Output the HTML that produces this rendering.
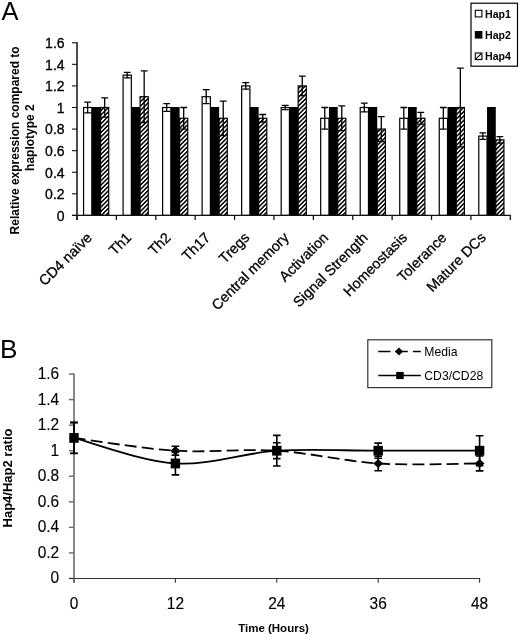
<!DOCTYPE html>
<html><head><meta charset="utf-8"><style>
html,body{margin:0;padding:0;background:#fff;}
body{width:520px;height:636px;overflow:hidden;font-family:"Liberation Sans", sans-serif;}
svg{display:block;filter:grayscale(100%);}
</style></head><body>
<svg width="520" height="636" viewBox="0 0 520 636">
<defs>
<pattern id="hatch" patternUnits="userSpaceOnUse" width="3.1" height="3.1" patternTransform="rotate(45)">
<rect x="0" y="0" width="3.1" height="3.1" fill="#fff"/>
<rect x="0" y="0" width="1.5" height="3.1" fill="#000"/>
</pattern>
</defs>
<rect width="520" height="636" fill="#fff"/>
<text x="1.5" y="19.6" font-size="25.5" font-family='"Liberation Sans", sans-serif' fill="#000">A</text><line x1="72" y1="215.40" x2="77.0" y2="215.40" stroke="#111" stroke-width="1.1"/><text transform="translate(64.6 220.80) scale(1.04 1.12)" font-size="13.5" text-anchor="end" font-family='"Liberation Sans", sans-serif' fill="#000" stroke="#000" stroke-width="0.3">0</text><line x1="72" y1="193.82" x2="77.0" y2="193.82" stroke="#111" stroke-width="1.1"/><text transform="translate(64.6 199.22) scale(1.04 1.12)" font-size="13.5" text-anchor="end" font-family='"Liberation Sans", sans-serif' fill="#000" stroke="#000" stroke-width="0.3">0.2</text><line x1="72" y1="172.24" x2="77.0" y2="172.24" stroke="#111" stroke-width="1.1"/><text transform="translate(64.6 177.64) scale(1.04 1.12)" font-size="13.5" text-anchor="end" font-family='"Liberation Sans", sans-serif' fill="#000" stroke="#000" stroke-width="0.3">0.4</text><line x1="72" y1="150.66" x2="77.0" y2="150.66" stroke="#111" stroke-width="1.1"/><text transform="translate(64.6 156.06) scale(1.04 1.12)" font-size="13.5" text-anchor="end" font-family='"Liberation Sans", sans-serif' fill="#000" stroke="#000" stroke-width="0.3">0.6</text><line x1="72" y1="129.08" x2="77.0" y2="129.08" stroke="#111" stroke-width="1.1"/><text transform="translate(64.6 134.48) scale(1.04 1.12)" font-size="13.5" text-anchor="end" font-family='"Liberation Sans", sans-serif' fill="#000" stroke="#000" stroke-width="0.3">0.8</text><line x1="72" y1="107.50" x2="77.0" y2="107.50" stroke="#111" stroke-width="1.1"/><text transform="translate(64.6 112.90) scale(1.04 1.12)" font-size="13.5" text-anchor="end" font-family='"Liberation Sans", sans-serif' fill="#000" stroke="#000" stroke-width="0.3">1</text><line x1="72" y1="85.92" x2="77.0" y2="85.92" stroke="#111" stroke-width="1.1"/><text transform="translate(64.6 91.32) scale(1.04 1.12)" font-size="13.5" text-anchor="end" font-family='"Liberation Sans", sans-serif' fill="#000" stroke="#000" stroke-width="0.3">1.2</text><line x1="72" y1="64.34" x2="77.0" y2="64.34" stroke="#111" stroke-width="1.1"/><text transform="translate(64.6 69.74) scale(1.04 1.12)" font-size="13.5" text-anchor="end" font-family='"Liberation Sans", sans-serif' fill="#000" stroke="#000" stroke-width="0.3">1.4</text><line x1="72" y1="42.76" x2="77.0" y2="42.76" stroke="#111" stroke-width="1.1"/><text transform="translate(64.6 48.16) scale(1.04 1.12)" font-size="13.5" text-anchor="end" font-family='"Liberation Sans", sans-serif' fill="#000" stroke="#000" stroke-width="0.3">1.6</text><line x1="77.0" y1="42.16" x2="77.0" y2="219.90" stroke="#111" stroke-width="1.5"/><rect x="83.57" y="107.50" width="8.25" height="107.90" fill="#fff" stroke="#000" stroke-width="1.2"/><rect x="91.82" y="107.00" width="8.75" height="108.40" fill="#000"/><rect x="100.57" y="107.50" width="8.15" height="107.90" fill="url(#hatch)" stroke="#000" stroke-width="1.2"/><rect x="123.09" y="75.13" width="8.25" height="140.27" fill="#fff" stroke="#000" stroke-width="1.2"/><rect x="131.34" y="107.00" width="8.75" height="108.40" fill="#000"/><rect x="140.09" y="96.71" width="8.15" height="118.69" fill="url(#hatch)" stroke="#000" stroke-width="1.2"/><rect x="162.61" y="107.50" width="8.25" height="107.90" fill="#fff" stroke="#000" stroke-width="1.2"/><rect x="170.86" y="107.00" width="8.75" height="108.40" fill="#000"/><rect x="179.61" y="118.29" width="8.15" height="97.11" fill="url(#hatch)" stroke="#000" stroke-width="1.2"/><rect x="202.13" y="96.71" width="8.25" height="118.69" fill="#fff" stroke="#000" stroke-width="1.2"/><rect x="210.38" y="107.00" width="8.75" height="108.40" fill="#000"/><rect x="219.13" y="118.29" width="8.15" height="97.11" fill="url(#hatch)" stroke="#000" stroke-width="1.2"/><rect x="241.65" y="85.92" width="8.25" height="129.48" fill="#fff" stroke="#000" stroke-width="1.2"/><rect x="249.90" y="107.00" width="8.75" height="108.40" fill="#000"/><rect x="258.65" y="118.29" width="8.15" height="97.11" fill="url(#hatch)" stroke="#000" stroke-width="1.2"/><rect x="281.18" y="107.50" width="8.25" height="107.90" fill="#fff" stroke="#000" stroke-width="1.2"/><rect x="289.43" y="107.00" width="8.75" height="108.40" fill="#000"/><rect x="298.18" y="85.92" width="8.15" height="129.48" fill="url(#hatch)" stroke="#000" stroke-width="1.2"/><rect x="320.70" y="118.29" width="8.25" height="97.11" fill="#fff" stroke="#000" stroke-width="1.2"/><rect x="328.95" y="107.00" width="8.75" height="108.40" fill="#000"/><rect x="337.70" y="118.29" width="8.15" height="97.11" fill="url(#hatch)" stroke="#000" stroke-width="1.2"/><rect x="360.22" y="107.50" width="8.25" height="107.90" fill="#fff" stroke="#000" stroke-width="1.2"/><rect x="368.47" y="107.00" width="8.75" height="108.40" fill="#000"/><rect x="377.22" y="129.08" width="8.15" height="86.32" fill="url(#hatch)" stroke="#000" stroke-width="1.2"/><rect x="399.74" y="118.29" width="8.25" height="97.11" fill="#fff" stroke="#000" stroke-width="1.2"/><rect x="407.99" y="107.00" width="8.75" height="108.40" fill="#000"/><rect x="416.74" y="118.29" width="8.15" height="97.11" fill="url(#hatch)" stroke="#000" stroke-width="1.2"/><rect x="439.26" y="118.29" width="8.25" height="97.11" fill="#fff" stroke="#000" stroke-width="1.2"/><rect x="447.51" y="107.00" width="8.75" height="108.40" fill="#000"/><rect x="456.26" y="107.50" width="8.15" height="107.90" fill="url(#hatch)" stroke="#000" stroke-width="1.2"/><rect x="478.78" y="136.09" width="8.25" height="79.31" fill="#fff" stroke="#000" stroke-width="1.2"/><rect x="487.03" y="107.00" width="8.75" height="108.40" fill="#000"/><rect x="495.78" y="139.87" width="8.15" height="75.53" fill="url(#hatch)" stroke="#000" stroke-width="1.2"/><path d="M87.65 102.10V112.90M84.25 102.10H91.05M84.25 112.90H91.05" stroke="#000" stroke-width="1.3" fill="none"/><path d="M104.65 97.79V117.21M101.25 97.79H108.05M101.25 117.21H108.05" stroke="#000" stroke-width="1.3" fill="none"/><path d="M127.17 72.43V77.83M123.77 72.43H130.57M123.77 77.83H130.57" stroke="#000" stroke-width="1.3" fill="none"/><path d="M144.17 70.81V122.61M140.77 70.81H147.57M140.77 122.61H147.57" stroke="#000" stroke-width="1.3" fill="none"/><path d="M166.69 103.72V111.28M163.29 103.72H170.09M163.29 111.28H170.09" stroke="#000" stroke-width="1.3" fill="none"/><path d="M183.69 107.50V129.08M180.29 107.50H187.09M180.29 129.08H187.09" stroke="#000" stroke-width="1.3" fill="none"/><path d="M206.21 89.70V103.72M202.81 89.70H209.61M202.81 103.72H209.61" stroke="#000" stroke-width="1.3" fill="none"/><path d="M223.21 101.03V135.55M219.81 101.03H226.61M219.81 135.55H226.61" stroke="#000" stroke-width="1.3" fill="none"/><path d="M245.73 82.68V89.16M242.33 82.68H249.13M242.33 89.16H249.13" stroke="#000" stroke-width="1.3" fill="none"/><path d="M262.73 114.51V122.07M259.33 114.51H266.13M259.33 122.07H266.13" stroke="#000" stroke-width="1.3" fill="none"/><path d="M285.25 105.34V109.66M281.85 105.34H288.65M281.85 109.66H288.65" stroke="#000" stroke-width="1.3" fill="none"/><path d="M302.25 76.21V95.63M298.85 76.21H305.65M298.85 95.63H305.65" stroke="#000" stroke-width="1.3" fill="none"/><path d="M324.77 107.50V129.08M321.37 107.50H328.17M321.37 129.08H328.17" stroke="#000" stroke-width="1.3" fill="none"/><path d="M341.77 105.88V130.70M338.37 105.88H345.17M338.37 130.70H345.17" stroke="#000" stroke-width="1.3" fill="none"/><path d="M364.29 103.18V111.82M360.89 103.18H367.69M360.89 111.82H367.69" stroke="#000" stroke-width="1.3" fill="none"/><path d="M381.29 116.67V141.49M377.89 116.67H384.69M377.89 141.49H384.69" stroke="#000" stroke-width="1.3" fill="none"/><path d="M403.81 107.50V129.08M400.41 107.50H407.21M400.41 129.08H407.21" stroke="#000" stroke-width="1.3" fill="none"/><path d="M420.81 112.36V124.22M417.41 112.36H424.21M417.41 124.22H424.21" stroke="#000" stroke-width="1.3" fill="none"/><path d="M443.33 107.50V129.08M439.93 107.50H446.73M439.93 129.08H446.73" stroke="#000" stroke-width="1.3" fill="none"/><path d="M460.33 68.12V146.88M456.93 68.12H463.73M456.93 146.88H463.73" stroke="#000" stroke-width="1.3" fill="none"/><path d="M482.85 132.86V139.33M479.45 132.86H486.25M479.45 139.33H486.25" stroke="#000" stroke-width="1.3" fill="none"/><path d="M499.85 136.63V143.11M496.45 136.63H503.25M496.45 143.11H503.25" stroke="#000" stroke-width="1.3" fill="none"/><line x1="72.0" y1="215.40" x2="510.80" y2="215.40" stroke="#111" stroke-width="1.3"/><line x1="77.00" y1="215.40" x2="77.00" y2="219.90" stroke="#111" stroke-width="1.3"/><line x1="116.39" y1="215.40" x2="116.39" y2="219.90" stroke="#111" stroke-width="1.3"/><line x1="155.78" y1="215.40" x2="155.78" y2="219.90" stroke="#111" stroke-width="1.3"/><line x1="195.17" y1="215.40" x2="195.17" y2="219.90" stroke="#111" stroke-width="1.3"/><line x1="234.56" y1="215.40" x2="234.56" y2="219.90" stroke="#111" stroke-width="1.3"/><line x1="273.95" y1="215.40" x2="273.95" y2="219.90" stroke="#111" stroke-width="1.3"/><line x1="313.35" y1="215.40" x2="313.35" y2="219.90" stroke="#111" stroke-width="1.3"/><line x1="352.74" y1="215.40" x2="352.74" y2="219.90" stroke="#111" stroke-width="1.3"/><line x1="392.13" y1="215.40" x2="392.13" y2="219.90" stroke="#111" stroke-width="1.3"/><line x1="431.52" y1="215.40" x2="431.52" y2="219.90" stroke="#111" stroke-width="1.3"/><line x1="470.91" y1="215.40" x2="470.91" y2="219.90" stroke="#111" stroke-width="1.3"/><line x1="510.30" y1="215.40" x2="510.30" y2="219.90" stroke="#111" stroke-width="1.3"/><text transform="translate(92.90 238.5) rotate(-45)" font-size="14.4" text-anchor="end" font-family='"Liberation Sans", sans-serif' fill="#000" stroke="#000" stroke-width="0.3">CD4 naïve</text><text transform="translate(132.29 238.5) rotate(-45)" font-size="14.4" text-anchor="end" font-family='"Liberation Sans", sans-serif' fill="#000" stroke="#000" stroke-width="0.3">Th1</text><text transform="translate(171.68 238.5) rotate(-45)" font-size="14.4" text-anchor="end" font-family='"Liberation Sans", sans-serif' fill="#000" stroke="#000" stroke-width="0.3">Th2</text><text transform="translate(211.07 238.5) rotate(-45)" font-size="14.4" text-anchor="end" font-family='"Liberation Sans", sans-serif' fill="#000" stroke="#000" stroke-width="0.3">Th17</text><text transform="translate(250.46 238.5) rotate(-45)" font-size="14.4" text-anchor="end" font-family='"Liberation Sans", sans-serif' fill="#000" stroke="#000" stroke-width="0.3">Tregs</text><text transform="translate(289.85 238.5) rotate(-45)" font-size="14.4" text-anchor="end" font-family='"Liberation Sans", sans-serif' fill="#000" stroke="#000" stroke-width="0.3">Central memory</text><text transform="translate(329.24 238.5) rotate(-45)" font-size="14.4" text-anchor="end" font-family='"Liberation Sans", sans-serif' fill="#000" stroke="#000" stroke-width="0.3">Activation</text><text transform="translate(368.63 238.5) rotate(-45)" font-size="14.4" text-anchor="end" font-family='"Liberation Sans", sans-serif' fill="#000" stroke="#000" stroke-width="0.3">Signal Strength</text><text transform="translate(408.02 238.5) rotate(-45)" font-size="14.4" text-anchor="end" font-family='"Liberation Sans", sans-serif' fill="#000" stroke="#000" stroke-width="0.3">Homeostasis</text><text transform="translate(447.41 238.5) rotate(-45)" font-size="14.4" text-anchor="end" font-family='"Liberation Sans", sans-serif' fill="#000" stroke="#000" stroke-width="0.3">Tolerance</text><text transform="translate(486.80 238.5) rotate(-45)" font-size="14.4" text-anchor="end" font-family='"Liberation Sans", sans-serif' fill="#000" stroke="#000" stroke-width="0.3">Mature DCs</text><text transform="translate(18.8 140.4) rotate(-90)" font-size="12" font-weight="bold" text-anchor="middle" font-family='"Liberation Sans", sans-serif' fill="#000">Relative expression compared to</text><text transform="translate(34.4 137.6) rotate(-90)" font-size="12" font-weight="bold" text-anchor="middle" font-family='"Liberation Sans", sans-serif' fill="#000">haplotype 2</text><rect x="471" y="3.2" width="46.5" height="63" fill="#fff" stroke="#000" stroke-width="1.2"/><rect x="475.3" y="10.30" width="6.6" height="6.6" fill="#fff" stroke="#000" stroke-width="1.1"/><rect x="474.8" y="31.00" width="7.6" height="7.6" fill="#000"/><rect x="475.3" y="53.00" width="6.6" height="6.6" fill="#fff" stroke="#000" stroke-width="1.1"/><path d="M476 58.90L481.2 53.70" stroke="#000" stroke-width="1.1"/><text transform="translate(485 17.70) scale(1 1.08)" font-size="10.6" font-weight="bold" font-family='"Liberation Sans", sans-serif' fill="#000">Hap1</text><text transform="translate(485 38.90) scale(1 1.08)" font-size="10.6" font-weight="bold" font-family='"Liberation Sans", sans-serif' fill="#000">Hap2</text><text transform="translate(485 60.40) scale(1 1.08)" font-size="10.6" font-weight="bold" font-family='"Liberation Sans", sans-serif' fill="#000">Hap4</text><text x="0" y="357.8" font-size="26.2" font-family='"Liberation Sans", sans-serif' fill="#000">B</text><line x1="68.9" y1="578.45" x2="74.0" y2="578.45" stroke="#6a6a6a" stroke-width="1.4"/><text transform="translate(59.2 583.45) scale(1 1.12)" font-size="15.5" text-anchor="end" font-family='"Liberation Sans", sans-serif' fill="#000" stroke="#000" stroke-width="0.12">0</text><line x1="68.9" y1="552.90" x2="74.0" y2="552.90" stroke="#6a6a6a" stroke-width="1.4"/><text transform="translate(59.2 557.90) scale(1 1.12)" font-size="15.5" text-anchor="end" font-family='"Liberation Sans", sans-serif' fill="#000" stroke="#000" stroke-width="0.12">0.2</text><line x1="68.9" y1="527.35" x2="74.0" y2="527.35" stroke="#6a6a6a" stroke-width="1.4"/><text transform="translate(59.2 532.35) scale(1 1.12)" font-size="15.5" text-anchor="end" font-family='"Liberation Sans", sans-serif' fill="#000" stroke="#000" stroke-width="0.12">0.4</text><line x1="68.9" y1="501.80" x2="74.0" y2="501.80" stroke="#6a6a6a" stroke-width="1.4"/><text transform="translate(59.2 506.80) scale(1 1.12)" font-size="15.5" text-anchor="end" font-family='"Liberation Sans", sans-serif' fill="#000" stroke="#000" stroke-width="0.12">0.6</text><line x1="68.9" y1="476.25" x2="74.0" y2="476.25" stroke="#6a6a6a" stroke-width="1.4"/><text transform="translate(59.2 481.25) scale(1 1.12)" font-size="15.5" text-anchor="end" font-family='"Liberation Sans", sans-serif' fill="#000" stroke="#000" stroke-width="0.12">0.8</text><line x1="68.9" y1="450.70" x2="74.0" y2="450.70" stroke="#6a6a6a" stroke-width="1.4"/><text transform="translate(59.2 455.70) scale(1 1.12)" font-size="15.5" text-anchor="end" font-family='"Liberation Sans", sans-serif' fill="#000" stroke="#000" stroke-width="0.12">1</text><line x1="68.9" y1="425.15" x2="74.0" y2="425.15" stroke="#6a6a6a" stroke-width="1.4"/><text transform="translate(59.2 430.15) scale(1 1.12)" font-size="15.5" text-anchor="end" font-family='"Liberation Sans", sans-serif' fill="#000" stroke="#000" stroke-width="0.12">1.2</text><line x1="68.9" y1="399.60" x2="74.0" y2="399.60" stroke="#6a6a6a" stroke-width="1.4"/><text transform="translate(59.2 404.60) scale(1 1.12)" font-size="15.5" text-anchor="end" font-family='"Liberation Sans", sans-serif' fill="#000" stroke="#000" stroke-width="0.12">1.4</text><line x1="68.9" y1="374.05" x2="74.0" y2="374.05" stroke="#6a6a6a" stroke-width="1.4"/><text transform="translate(59.2 379.05) scale(1 1.12)" font-size="15.5" text-anchor="end" font-family='"Liberation Sans", sans-serif' fill="#000" stroke="#000" stroke-width="0.12">1.6</text><line x1="74.0" y1="373.45" x2="74.0" y2="582.65" stroke="#6a6a6a" stroke-width="1.6"/><line x1="69.0" y1="578.45" x2="480.10" y2="578.45" stroke="#333" stroke-width="1.1"/><line x1="74.00" y1="578.45" x2="74.00" y2="582.65" stroke="#6a6a6a" stroke-width="1.6"/><text transform="translate(74.00 608.6) scale(1 1.12)" font-size="15.5" text-anchor="middle" font-family='"Liberation Sans", sans-serif' fill="#000" stroke="#000" stroke-width="0.12">0</text><line x1="175.40" y1="578.45" x2="175.40" y2="582.65" stroke="#333" stroke-width="1.1"/><text transform="translate(175.40 608.6) scale(1 1.12)" font-size="15.5" text-anchor="middle" font-family='"Liberation Sans", sans-serif' fill="#000" stroke="#000" stroke-width="0.12">12</text><line x1="276.80" y1="578.45" x2="276.80" y2="582.65" stroke="#333" stroke-width="1.1"/><text transform="translate(276.80 608.6) scale(1 1.12)" font-size="15.5" text-anchor="middle" font-family='"Liberation Sans", sans-serif' fill="#000" stroke="#000" stroke-width="0.12">24</text><line x1="378.20" y1="578.45" x2="378.20" y2="582.65" stroke="#333" stroke-width="1.1"/><text transform="translate(378.20 608.6) scale(1 1.12)" font-size="15.5" text-anchor="middle" font-family='"Liberation Sans", sans-serif' fill="#000" stroke="#000" stroke-width="0.12">36</text><line x1="479.60" y1="578.45" x2="479.60" y2="582.65" stroke="#333" stroke-width="1.1"/><text transform="translate(479.60 608.6) scale(1 1.12)" font-size="15.5" text-anchor="middle" font-family='"Liberation Sans", sans-serif' fill="#000" stroke="#000" stroke-width="0.12">48</text><text x="273.5" y="631.5" font-size="11.5" font-weight="bold" text-anchor="middle" font-family='"Liberation Sans", sans-serif' fill="#000">Time (Hours)</text><text transform="translate(11.8 478) rotate(-90)" font-size="13" font-weight="bold" text-anchor="middle" font-family='"Liberation Sans", sans-serif' fill="#000">Hap4/Hap2 ratio</text><path d="M74.00 437.93C90.90 442.18 141.60 461.35 175.40 463.48C209.20 465.60 243.00 452.83 276.80 450.70C310.60 448.57 344.40 450.70 378.20 450.70C412.00 450.70 462.70 450.70 479.60 450.70" fill="none" stroke="#000" stroke-width="1.8"/><path d="M74.00 437.93C90.90 440.05 141.60 448.57 175.40 450.70" fill="none" stroke="#000" stroke-width="1.8" stroke-dasharray="11.9 5.2"/><path d="M175.40 450.70C209.20 452.83 243.00 448.57 276.80 450.70" fill="none" stroke="#000" stroke-width="1.8" stroke-dasharray="11.9 5.2"/><path d="M276.80 450.70C310.60 452.83 344.40 461.35 378.20 463.48" fill="none" stroke="#000" stroke-width="1.8" stroke-dasharray="11.9 5.2"/><path d="M378.20 463.48C412.00 465.60 462.70 463.48 479.60 463.48" fill="none" stroke="#000" stroke-width="1.8" stroke-dasharray="11.9 5.2"/><path d="M74.00 422.60V453.26M70.20 422.60H77.80M70.20 453.26H77.80" stroke="#000" stroke-width="1.6" fill="none"/><path d="M175.40 446.23V455.17M171.60 446.23H179.20M171.60 455.17H179.20" stroke="#000" stroke-width="1.6" fill="none"/><path d="M276.80 442.78V458.62M273.00 442.78H280.60M273.00 458.62H280.60" stroke="#000" stroke-width="1.6" fill="none"/><path d="M378.20 456.19V470.76M374.40 456.19H382.00M374.40 470.76H382.00" stroke="#000" stroke-width="1.6" fill="none"/><path d="M479.60 456.07V470.88M475.80 456.07H483.40M475.80 470.88H483.40" stroke="#000" stroke-width="1.6" fill="none"/><path d="M74.00 422.34V453.51M70.20 422.34H77.80M70.20 453.51H77.80" stroke="#000" stroke-width="1.6" fill="none"/><path d="M175.40 452.11V474.84M171.60 452.11H179.20M171.60 474.84H179.20" stroke="#000" stroke-width="1.6" fill="none"/><path d="M276.80 435.37V466.03M273.00 435.37H280.60M273.00 466.03H280.60" stroke="#000" stroke-width="1.6" fill="none"/><path d="M378.20 443.16V458.24M374.40 443.16H382.00M374.40 458.24H382.00" stroke="#000" stroke-width="1.6" fill="none"/><path d="M479.60 435.75V465.65M475.80 435.75H483.40M475.80 465.65H483.40" stroke="#000" stroke-width="1.6" fill="none"/><path d="M69.10 437.93L74.00 433.33L78.90 437.93L74.00 442.53Z" fill="#000"/><path d="M170.50 450.70L175.40 446.10L180.30 450.70L175.40 455.30Z" fill="#000"/><path d="M271.90 450.70L276.80 446.10L281.70 450.70L276.80 455.30Z" fill="#000"/><path d="M373.30 463.48L378.20 458.88L383.10 463.48L378.20 468.08Z" fill="#000"/><path d="M474.70 463.48L479.60 458.88L484.50 463.48L479.60 468.08Z" fill="#000"/><rect x="69.30" y="433.03" width="9.4" height="9.8" fill="#000"/><rect x="170.70" y="458.58" width="9.4" height="9.8" fill="#000"/><rect x="272.10" y="445.80" width="9.4" height="9.8" fill="#000"/><rect x="373.50" y="445.80" width="9.4" height="9.8" fill="#000"/><rect x="474.90" y="445.80" width="9.4" height="9.8" fill="#000"/><rect x="367.8" y="339.8" width="124" height="47.8" fill="#fff" stroke="#333" stroke-width="1.2"/><path d="M378.2 351.5H390.5M395.5 351.5H407.8M412.9 351.5H420.8" stroke="#000" stroke-width="1.7"/><path d="M395 351.6L399 347.6L403 351.6L399 355.6Z" fill="#000"/><path d="M378.3 375.5H420.8" stroke="#000" stroke-width="1.7"/><rect x="396.2" y="371.9" width="7.5" height="7.2" fill="#000"/><text transform="translate(424.3 356.4) scale(1 1.1)" font-size="12.2" font-family='"Liberation Sans", sans-serif' fill="#000">Media</text><text transform="translate(424.3 380.3) scale(1 1.1)" font-size="12.2" font-family='"Liberation Sans", sans-serif' fill="#000">CD3/CD28</text>
</svg>
</body></html>
